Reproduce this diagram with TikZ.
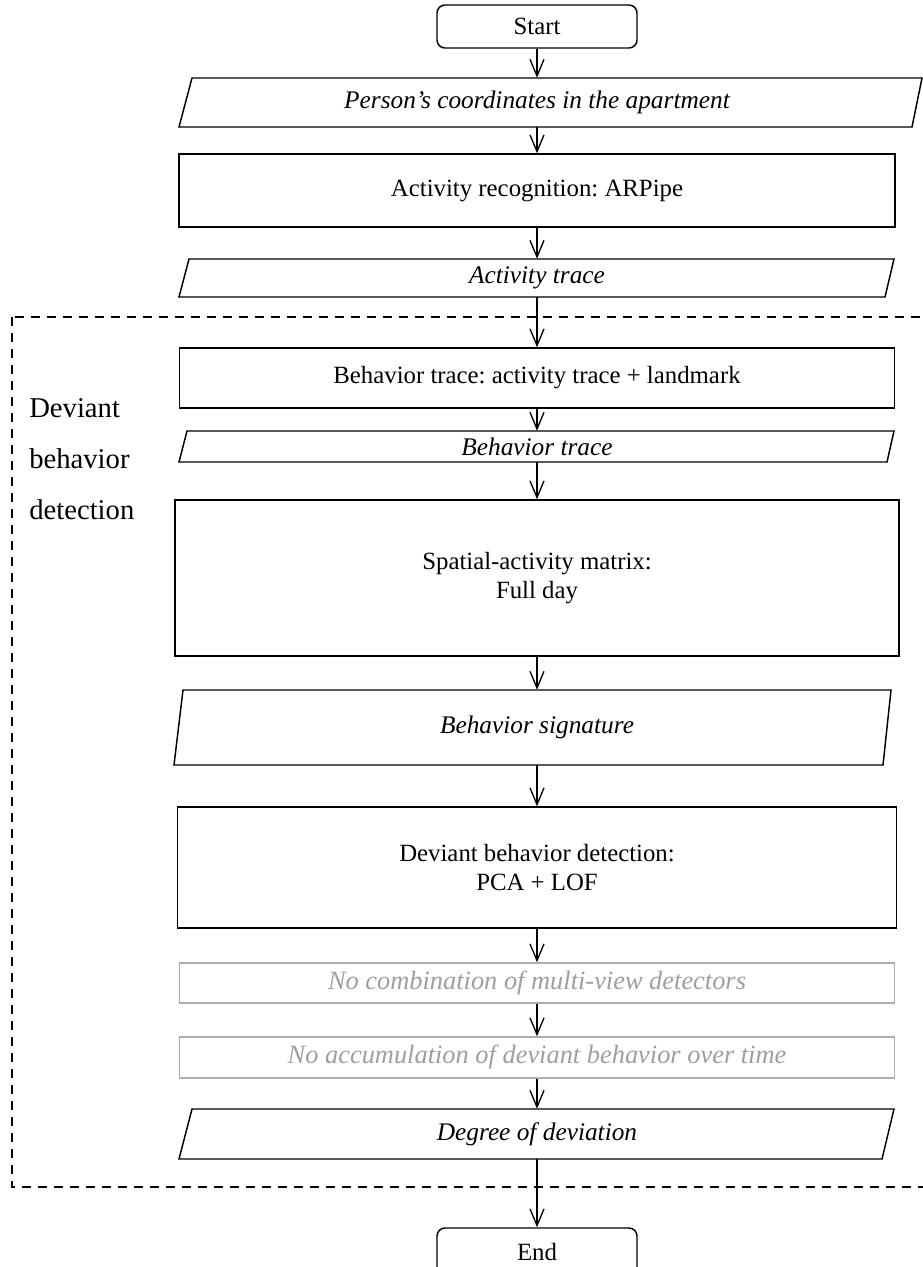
\documentclass[tikz,border=0pt]{standalone}
\usepackage{fontspec}
\setmainfont{Liberation Serif}
\usetikzlibrary{arrows.meta}
\frenchspacing
\begin{document}
\begin{tikzpicture}[x=0.75pt,y=-0.75pt,
  txt/.style={font=\fontsize{18.6}{22}\selectfont},
  proc/.style={txt, draw, line width=1.1pt, rectangle, inner sep=0pt, align=center},
  term/.style={proc, rounded corners=6pt},
  iolabel/.style={inner sep=0pt, font=\fontsize{19}{22}\selectfont\itshape},
  ioedge/.style={line width=1.1pt, line join=miter},
  skipped/.style={proc, draw=black!32, text=black!38, font=\fontsize{19.8}{23}\selectfont\itshape},
  flow/.style={line width=1pt, -{Straight Barb[length=12.5pt,width=10.5pt,line width=1pt]}},
  group/.style={line width=1.1pt, dash pattern=on 7pt off 5pt}
]
\useasboundingbox (0,0) rectangle (923,1267);

% dashed frame of the detection stage
\draw[group] (12,317) rectangle (940,1187);
\node[anchor=base west, align=left, inner sep=0pt,
      font=\fontsize{21.5}{38.25}\selectfont] (grouplabel) at (29,519)
      {Deviant\\behavior\\detection};

% terminals and process boxes
\node[term, minimum width=150pt, minimum height=32.25pt] (start) at (537,26.5) {Start};
\node[proc, minimum width=537pt, minimum height=54.75pt] (arpipe) at (537,190.5) {Activity recognition: ARPipe};
\node[proc, minimum width=536.25pt, minimum height=45pt] (btbox) at (537,378) {Behavior trace: activity trace + landmark};
\node[proc, minimum width=543pt, minimum height=117pt] (matrix) at (537,578) {Spatial-activity matrix:\\Full day};
\node[proc, minimum width=539.25pt, minimum height=90.75pt] (pcalof) at (537,867.5) {Deviant behavior detection:\\PCA + LOF};
\node[skipped, minimum width=536.25pt, minimum height=30pt] (nocomb) at (537,983) {No combination of multi-view detectors};
\node[skipped, minimum width=536.25pt, minimum height=30.75pt] (noacc) at (537,1057.5) {No accumulation of deviant behavior over time};
\node[term, minimum width=150pt, minimum height=36pt] (end) at (537,1252) {End};

% input/output parallelograms: text nodes plus outlines
\node[iolabel, minimum width=540pt, minimum height=36.75pt] (coords) at (537,102.5) {Person’s coordinates in the apartment};
\draw[ioedge] (179,127) -- (192,78) -- (922,78) -- (912,127) -- cycle;

\node[iolabel, minimum width=530pt, minimum height=28.5pt] (acttrace) at (537,278) {Activity trace};
\draw[ioedge] (179,297) -- (189,259) -- (894,259) -- (885,297) -- cycle;

\node[iolabel, minimum width=530pt, minimum height=23.25pt] (bttrace) at (537,446.5) {Behavior trace};
\draw[ioedge] (179,462) -- (187,431) -- (894,431) -- (887,462) -- cycle;

\node[iolabel, minimum width=530pt, minimum height=56.25pt] (signature) at (537,727.5) {Behavior signature};
\draw[ioedge] (174,765) -- (183,690) -- (891,690) -- (883,765) -- cycle;

\node[iolabel, minimum width=530pt, minimum height=37.5pt] (degree) at (537,1134) {Degree of deviation};
\draw[ioedge] (179,1159) -- (192,1109) -- (894,1109) -- (882,1159) -- cycle;

% flow connectors
\draw[flow] (start.south) -- (coords.north);
\draw[flow] (coords.south) -- (arpipe.north);
\draw[flow] (arpipe.south) -- (acttrace.north);
\draw[flow] (acttrace.south) -- (btbox.north);
\draw[flow] (btbox.south) -- (bttrace.north);
\draw[flow] (bttrace.south) -- (matrix.north);
\draw[flow] (matrix.south) -- (signature.north);
\draw[flow] (signature.south) -- (pcalof.north);
\draw[flow] (pcalof.south) -- (nocomb.north);
\draw[flow] (nocomb.south) -- (noacc.north);
\draw[flow] (noacc.south) -- (degree.north);
\draw[flow] (degree.south) -- (end.north);
\end{tikzpicture}
\end{document}
